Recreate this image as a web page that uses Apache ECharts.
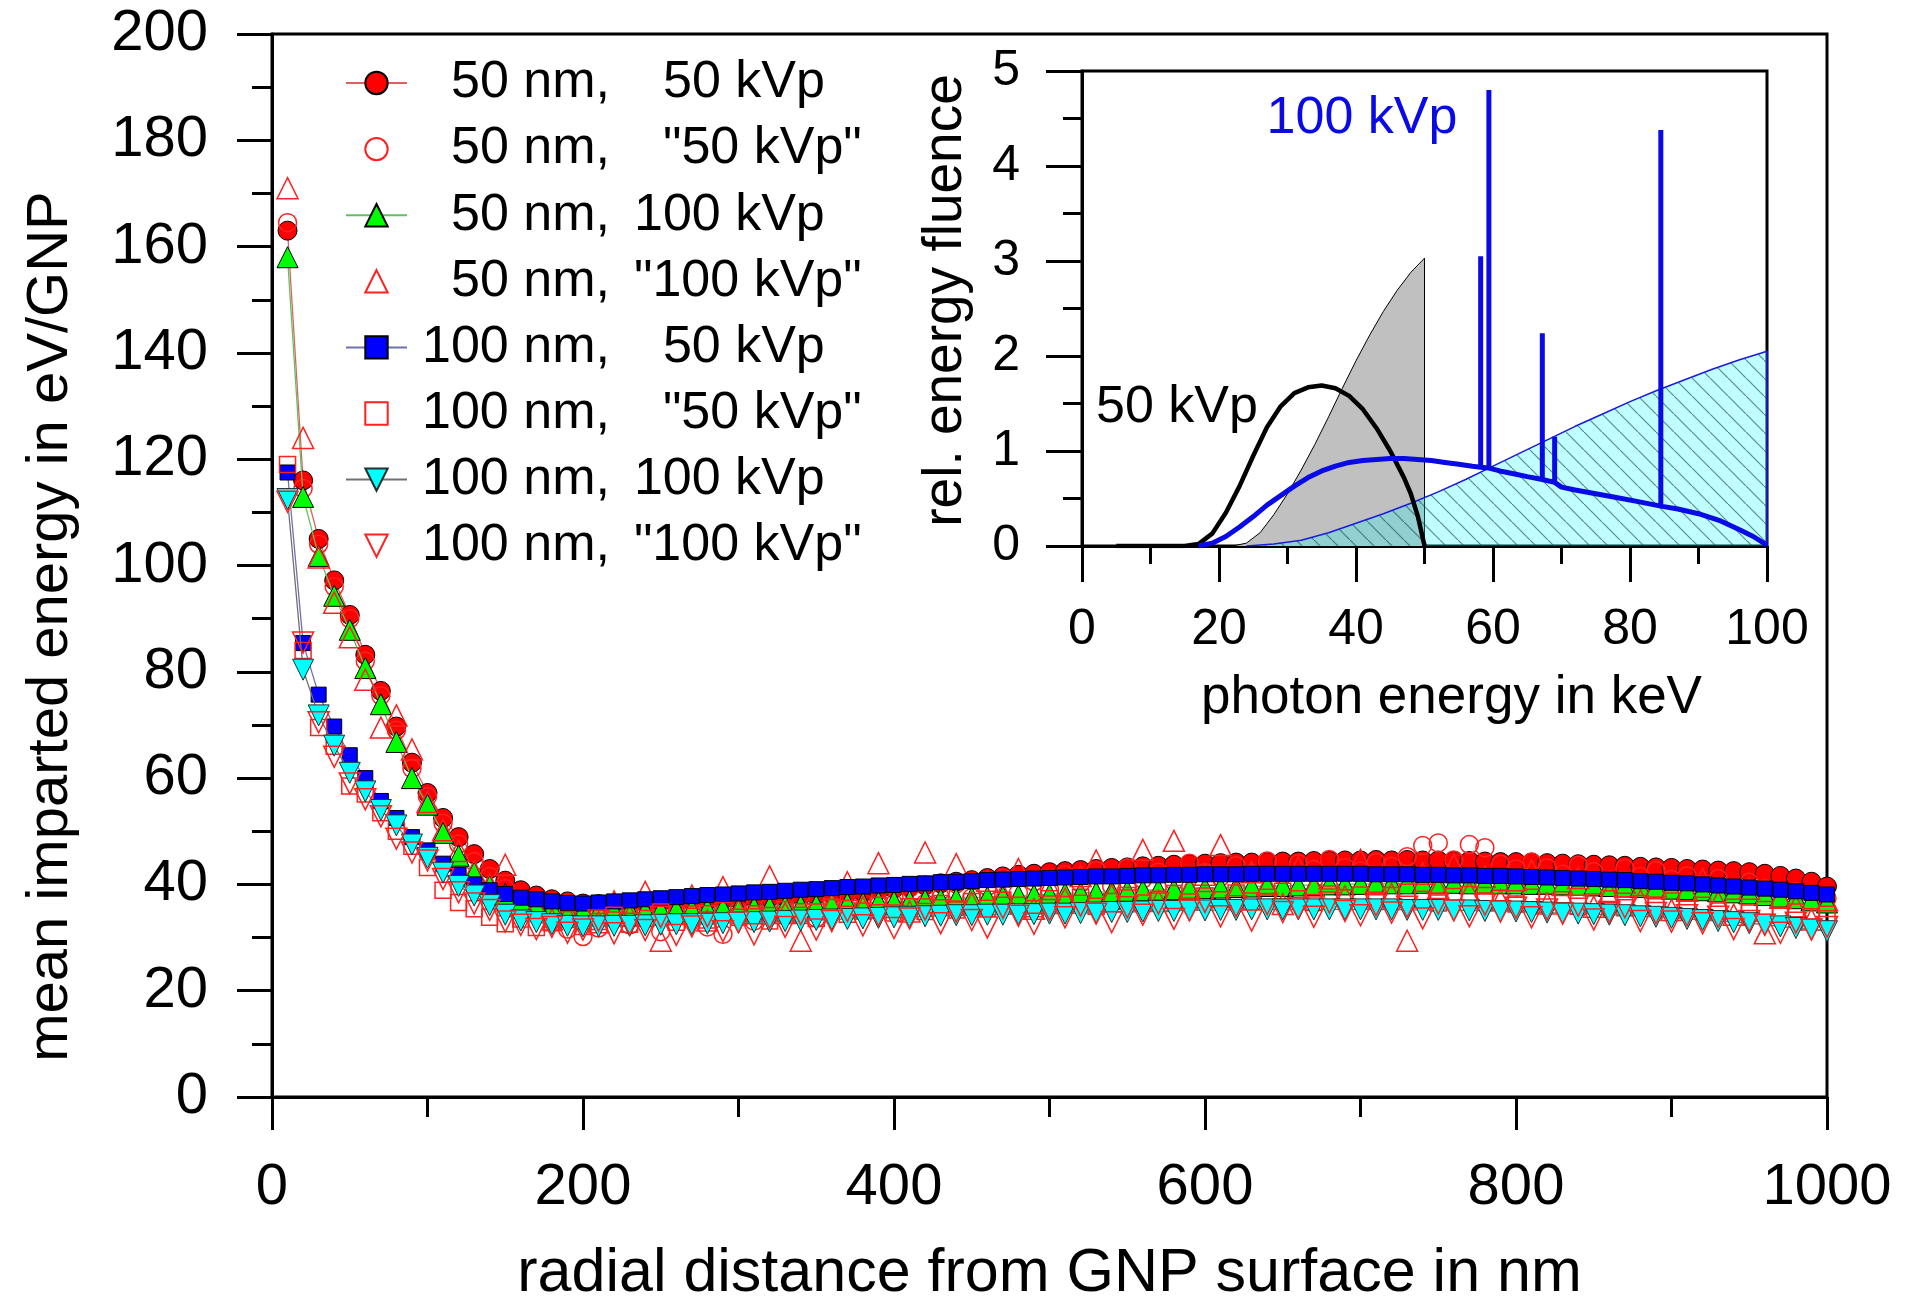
<!DOCTYPE html>
<html style="height: 100%">
<head>
    <meta charset="utf-8">
    <script src="https://cdn.jsdelivr.net/npm/echarts@6/dist/echarts.min.js"></script>
    <title>mean imparted energy</title>
</head>
<body style="height: 100%; margin: 0; background: #fff">
<div id="container" style="width: 1920px; height: 1310px"></div>
<script type="text/javascript">
// radial distance from GNP surface (nm)
let distNm = [10,20,30,40,50,60,70,80,90,100,110,120,130,140,150,160,170,180,190,200,
    210,220,230,240,250,260,270,280,290,300,310,320,330,340,350,360,370,380,390,400,
    410,420,430,440,450,460,470,480,490,500,510,520,530,540,550,560,570,580,590,600,
    610,620,630,640,650,660,670,680,690,700,710,720,730,740,750,760,770,780,790,800,
    810,820,830,840,850,860,870,880,890,900,910,920,930,940,950,960,970,980,990,1000]

// mean imparted energy in eV/GNP, one list per series
let nm50kvp50 = [163.0,116.0,105.0,97.2,90.7,83.2,76.4,69.7,62.9,57.2,
    52.5,48.9,45.7,42.9,40.7,38.9,37.9,37.2,36.8,36.4,
    36.3,36.4,36.4,36.6,36.6,36.7,36.9,36.9,37.1,37.2,
    37.3,37.5,37.6,37.8,38.0,38.1,38.4,38.6,38.9,39.2,
    39.5,39.8,40.2,40.5,40.8,41.2,41.5,41.8,42.0,42.3,
    42.5,42.7,42.9,43.1,43.2,43.4,43.5,43.7,43.8,43.9,
    44.0,44.1,44.1,44.2,44.3,44.3,44.4,44.4,44.5,44.5,
    44.6,44.5,44.6,44.5,44.5,44.4,44.4,44.3,44.2,44.2,
    44.1,44.0,43.9,43.8,43.7,43.6,43.5,43.3,43.2,43.1,
    42.9,42.8,42.6,42.5,42.3,42.0,41.6,41.1,40.5,39.6]
let nm50kvp50q = [164.5,114.5,104.0,96.0,90.0,82.0,75.5,69.0,61.8,56.5,
    51.5,47.6,44.3,41.5,39.2,36.8,35.0,33.2,31.6,30.2,
    31.8,33.5,32.4,34.6,31.1,33.9,35.2,32.0,30.6,34.8,
    33.1,35.9,34.2,36.5,33.7,37.1,35.4,38.2,36.0,37.6,
    39.3,36.4,38.8,40.1,37.5,39.6,41.2,38.4,40.5,39.0,
    41.8,40.2,42.6,39.7,43.1,41.0,42.3,40.6,44.0,42.2,
    41.4,43.5,42.0,44.4,41.7,43.9,42.8,44.7,43.2,42.5,
    44.1,43.4,45.2,47.3,47.8,44.6,47.5,46.9,43.8,42.9,
    44.2,43.1,41.9,43.6,42.4,40.8,43.0,41.5,42.6,40.9,
    41.6,39.8,41.1,38.7,40.4,39.2,37.9,38.6,36.8,37.4]
let nm50kvp100 = [158.0,112.9,101.8,94.3,87.9,80.7,73.9,66.8,60.0,55.0,
    49.7,45.4,42.2,39.7,38.2,37.0,36.2,35.6,35.2,35.0,
    34.9,35.0,35.1,35.1,35.2,35.3,35.3,35.4,35.5,35.6,
    35.7,35.8,35.9,36.0,36.1,36.3,36.4,36.5,36.7,36.8,
    36.9,37.1,37.2,37.3,37.5,37.6,37.7,37.9,38.0,38.1,
    38.3,38.4,38.5,38.7,38.8,38.9,39.0,39.1,39.2,39.3,
    39.4,39.5,39.6,39.7,39.7,39.8,39.9,40.0,40.0,40.1,
    40.1,40.2,40.2,40.3,40.2,40.3,40.2,40.3,40.2,40.2,
    40.1,40.1,40.0,39.9,39.8,39.7,39.6,39.5,39.4,39.2,
    39.1,38.9,38.7,38.5,38.3,38.0,37.7,37.4,37.0,36.6]
let nm50kvp100q = [171.0,124.0,101.5,93.0,86.5,78.5,69.5,71.8,65.4,55.5,
    50.2,46.3,42.5,40.0,43.7,37.1,35.8,33.4,34.2,35.5,
    32.9,36.8,34.1,38.6,29.4,36.0,37.9,33.2,39.5,35.1,
    37.4,41.5,34.6,29.4,38.3,36.2,40.4,35.7,44.0,37.8,
    34.9,46.0,39.1,43.8,36.5,40.7,38.2,42.9,35.4,39.8,
    37.3,41.6,44.5,38.0,40.9,46.5,36.9,48.2,39.4,41.8,
    47.4,38.7,42.3,40.0,36.3,43.2,39.6,41.1,37.8,44.6,
    40.5,38.2,29.4,42.0,39.3,43.7,38.6,41.4,37.1,40.8,
    42.6,36.4,39.9,41.2,35.8,38.5,40.3,37.0,39.6,35.2,
    38.8,41.0,36.7,34.3,39.2,30.8,37.5,35.9,33.4,37.0]
let nm100kvp50 = [117.5,85.4,75.7,69.7,64.3,60.0,55.7,52.5,48.9,46.4,
    43.9,41.8,40.0,38.9,38.2,37.5,37.2,36.8,36.5,36.4,
    36.6,36.8,37.0,37.2,37.4,37.6,37.8,38.0,38.1,38.3,
    38.5,38.6,38.8,39.0,39.1,39.3,39.5,39.6,39.8,39.9,
    40.1,40.2,40.4,40.5,40.6,40.8,40.9,41.0,41.1,41.2,
    41.3,41.4,41.5,41.5,41.6,41.7,41.7,41.8,41.8,41.9,
    41.9,41.9,42.0,42.0,42.0,42.0,42.0,42.0,42.0,42.0,
    41.9,41.9,41.9,41.8,41.8,41.7,41.7,41.6,41.6,41.5,
    41.4,41.3,41.2,41.1,41.0,40.9,40.8,40.6,40.5,40.3,
    40.2,40.0,39.8,39.6,39.4,39.2,39.0,38.7,38.4,38.1]
let nm100kvp50q = [119.0,84.0,69.5,66.0,58.5,57.0,53.5,50.0,47.2,43.2,
    38.9,36.6,35.4,33.8,32.6,33.5,31.9,32.8,33.4,32.1,
    33.0,34.2,32.5,33.6,34.8,32.9,34.0,33.3,35.1,33.8,
    34.5,33.1,35.3,34.2,33.6,35.7,34.4,35.0,36.1,34.6,
    35.8,34.9,36.4,35.2,36.8,35.5,37.0,36.1,35.4,37.3,
    36.2,37.6,35.9,36.8,37.9,36.5,37.2,38.3,36.7,37.8,
    37.1,38.4,36.9,37.6,38.7,37.3,36.6,38.2,37.5,38.0,
    36.8,37.9,38.5,37.2,36.5,37.7,38.1,36.9,37.4,36.3,
    37.6,36.8,37.1,35.9,36.7,37.3,35.6,36.4,35.8,36.9,
    35.4,36.1,35.0,35.7,34.6,35.3,34.2,34.8,33.9,34.4]
let nm100kvp100 = [112.5,80.4,71.8,66.1,61.0,57.5,54.0,51.1,47.5,45.0,
    42.2,39.7,37.9,36.1,34.3,33.2,32.9,32.5,32.2,32.1,
    32.1,32.2,32.2,32.3,32.4,32.5,32.5,32.6,32.7,32.8,
    32.9,33.0,33.1,33.2,33.3,33.4,33.5,33.6,33.7,33.8,
    33.9,34.0,34.1,34.2,34.2,34.3,34.3,34.4,34.4,34.5,
    34.5,34.6,34.7,34.8,34.8,34.9,35.0,35.0,35.1,35.1,
    35.2,35.2,35.3,35.3,35.3,35.3,35.3,35.3,35.3,35.3,
    35.3,35.3,35.2,35.2,35.2,35.1,35.1,35.0,35.0,34.9,
    34.8,34.7,34.6,34.5,34.4,34.3,34.2,34.0,33.9,33.7,
    33.5,33.3,33.1,32.9,32.7,32.4,32.1,31.8,31.5,31.2]
let nm100kvp100q = [112.0,85.5,70.5,64.0,59.0,56.0,52.8,48.6,46.0,44.5,
    41.0,38.5,36.4,35.2,33.0,32.4,31.6,32.0,30.9,31.5,
    33.2,30.8,32.6,31.4,33.9,30.5,32.1,34.0,31.2,32.9,
    30.6,33.7,32.0,34.4,31.5,33.1,35.0,32.3,34.2,31.8,
    33.6,35.3,32.7,34.9,33.3,31.9,35.6,34.1,32.6,35.2,
    33.8,36.0,34.5,32.9,35.7,34.3,36.4,33.5,35.1,36.7,
    34.0,35.9,33.2,36.3,34.8,35.5,33.9,36.6,35.0,34.2,
    36.1,34.7,35.8,33.6,36.4,35.1,34.0,36.2,34.9,35.6,
    33.8,35.3,34.5,36.0,33.4,34.8,35.7,33.1,34.6,33.0,
    34.2,32.7,33.9,31.6,33.1,32.4,30.9,32.8,31.5,32.0]

let seriesNames = ['50 nm, 50 kVp', '50 nm, "50 kVp"', '50 nm, 100 kVp', '50 nm, "100 kVp"',
    '100 nm, 50 kVp', '100 nm, "50 kVp"', '100 nm, 100 kVp', '100 nm, "100 kVp"']

// inset: photon energy (keV) vs rel. energy fluence
let spec50unfilt = [[22,0],[24,0.03],[26,0.14],[28,0.33],[30,0.55],[32,0.8],[34,1.07],[36,1.36],
    [38,1.66],[40,1.95],[42,2.22],[44,2.47],[46,2.69],[48,2.88],[50,3.03],[50,0]]
let spec100unfilt = [[24,0],[28,0.02],[32,0.06],[36,0.14],[40,0.24],[44,0.34],[48,0.45],[52,0.57],
    [56,0.7],[60,0.84],[64,0.98],[68,1.12],[72,1.26],[76,1.39],[80,1.52],[84,1.64],[88,1.75],
    [92,1.86],[96,1.96],[100,2.05],[100,0]]
let spec50 = [[5,0],[10,0],[15,0],[17,0.02],[19,0.13],[21,0.35],[23,0.63],[25,0.95],[27,1.25],
    [29,1.47],[31,1.61],[33,1.67],[35,1.69],[37,1.66],[39,1.58],[41,1.44],[43,1.24],[45,1.0],
    [47,0.72],[48,0.55],[49,0.32],[49.7,0.1],[50,0]]
let spec100 = [[17,0],[19,0.03],[21,0.1],[23,0.2],[25,0.31],[27,0.43],[29,0.53],[31,0.63],[33,0.72],
    [35,0.79],[37,0.84],[39,0.88],[41,0.9],[43,0.91],[45,0.92],[47,0.92],[49,0.91],[51,0.9],
    [53,0.88],[55,0.86],[57,0.84],[58.2,0.83],[58.2,3.05],[58.2,0.83],[59.4,0.82],[59.4,4.8],
    [59.4,0.82],[61,0.79],[63,0.76],[65,0.73],[67.2,0.7],[67.2,2.24],[67.2,0.7],[69,0.67],
    [69,1.15],[69,0.67],[70,0.62],[72,0.59],[75,0.55],[78,0.51],[81,0.47],[84.5,0.42],
    [84.5,4.38],[84.5,0.42],[87,0.39],[90,0.34],[93,0.27],[96,0.17],[98,0.1],[100,0.01]]

const FONT = 'Liberation Sans, Arial, sans-serif'

function pairs(ys) {
    return ys.map((v, i) => [distNm[i], v])
}

// hatch pattern for the 100 kVp area
let hatch = document.createElement('canvas')
hatch.width = 18
hatch.height = 18
let hctx = hatch.getContext('2d')
hctx.fillStyle = 'rgba(0,255,255,0.25)'
hctx.fillRect(0, 0, 18, 18)
hctx.strokeStyle = 'rgba(30,80,80,0.65)'
hctx.lineWidth = 1.2
hctx.beginPath()
hctx.moveTo(-1, -1)
hctx.lineTo(19, 19)
hctx.stroke()

let mainStyles = [
    {symbol: 'circle', size: 19, fill: '#ff0000', border: '#000', line: '#e06060'},
    {symbol: 'circle', size: 18, fill: 'rgba(0,0,0,0)', border: '#ff2020', line: null},
    {symbol: 'triangle', size: 21, fill: '#00ff00', border: '#000', line: '#60c060'},
    {symbol: 'triangle', size: 21, fill: 'rgba(0,0,0,0)', border: '#ff2020', line: null},
    {symbol: 'rect', size: 15, fill: '#0000ff', border: '#000', line: '#7070b0'},
    {symbol: 'rect', size: 16, fill: 'rgba(0,0,0,0)', border: '#ff2020', line: null},
    {symbol: 'triangle', size: 21, fill: '#00ffff', border: '#203030', line: '#707070', rot: 180},
    {symbol: 'triangle', size: 21, fill: 'rgba(0,0,0,0)', border: '#ff2020', line: null, rot: 180}
]
let mainData = [nm50kvp50, nm50kvp50q, nm50kvp100, nm50kvp100q,
    nm100kvp50, nm100kvp50q, nm100kvp100, nm100kvp100q]

let series = []
for (let i in mainData) {
    let s = mainStyles[i]
    series.push({
        name: seriesNames[i],
        type: 'line',
        xAxisIndex: 0, yAxisIndex: 0,
        data: pairs(mainData[i]),
        symbol: s.symbol,
        symbolSize: s.size,
        symbolRotate: s.rot || 0,
        showAllSymbol: true,
        itemStyle: {color: s.fill, borderColor: s.border, borderWidth: s.line ? 1 : 1.5},
        lineStyle: s.line ? {color: s.line, width: 1.3} : {width: 0, opacity: 0},
        z: 2 + Number(i)
    })
}

// inset series
series.push({
    type: 'line', xAxisIndex: 1, yAxisIndex: 1, data: spec50unfilt, symbol: 'none',
    lineStyle: {color: '#000', width: 1}, areaStyle: {color: '#c0c0c0', opacity: 1}, z: 20
})
series.push({
    type: 'line', xAxisIndex: 1, yAxisIndex: 1, data: spec100unfilt, symbol: 'none',
    lineStyle: {color: '#1a1ae0', width: 1.5}, areaStyle: {color: {image: hatch, repeat: 'repeat'}, opacity: 1}, z: 21
})
series.push({
    type: 'line', xAxisIndex: 1, yAxisIndex: 1, data: spec50, symbol: 'none',
    lineStyle: {color: '#000', width: 4.5}, z: 22
})
series.push({
    type: 'line', xAxisIndex: 1, yAxisIndex: 1, data: spec100, symbol: 'none',
    lineStyle: {color: '#0a0ae6', width: 5}, z: 23
})

let axisBlack = {lineStyle: {color: '#000', width: 3}}
let plain = function (v) { return String(v) }

let chart = echarts.init(document.getElementById('container'))
chart.setOption({
    animation: false,
    backgroundColor: '#fff',
    textStyle: {fontFamily: FONT},
    grid: [
        {left: 272, top: 34, width: 1555, height: 1069, show: true, borderColor: '#000', borderWidth: 3},
        {left: 1082, top: 71, width: 685, height: 475, show: true, borderColor: '#000', borderWidth: 3, z: 10}
    ],
    xAxis: [
        {
            type: 'value', gridIndex: 0, min: 0, max: 1000, interval: 200,
            axisLine: axisBlack,
            axisTick: {length: 33, lineStyle: {color: '#000', width: 3}},
            minorTick: {show: true, splitNumber: 2, length: 20, lineStyle: {color: '#000', width: 3}},
            splitLine: {show: false},
            axisLabel: {fontSize: 58, color: '#000', margin: 62, fontFamily: FONT, formatter: plain},
            name: 'radial distance from GNP surface in nm',
            nameLocation: 'middle', nameGap: 147,
            nameTextStyle: {fontSize: 61, color: '#000', fontFamily: FONT}
        },
        {
            type: 'value', gridIndex: 1, min: 0, max: 100, interval: 20,
            axisLine: axisBlack,
            axisTick: {length: 36, lineStyle: {color: '#000', width: 3}},
            minorTick: {show: true, splitNumber: 2, length: 18, lineStyle: {color: '#000', width: 3}},
            splitLine: {show: false},
            axisLabel: {fontSize: 50, color: '#000', margin: 59, fontFamily: FONT},
            name: 'photon energy in keV',
            nameLocation: 'middle', nameGap: 126,
            nameTextStyle: {fontSize: 53, color: '#000', fontFamily: FONT, padding: [0, 0, 0, 54]}
        }
    ],
    yAxis: [
        {
            type: 'value', gridIndex: 0, min: 0, max: 200, interval: 20,
            axisLine: axisBlack,
            axisTick: {length: 35, lineStyle: {color: '#000', width: 3}},
            minorTick: {show: true, splitNumber: 2, length: 20, lineStyle: {color: '#000', width: 3}},
            splitLine: {show: false},
            axisLabel: {fontSize: 58, color: '#000', margin: 64, fontFamily: FONT},
            name: 'mean imparted energy in eV/GNP',
            nameLocation: 'middle', nameGap: 192,
            nameTextStyle: {fontSize: 58, color: '#000', fontFamily: FONT, padding: [0, 122, 0, 0]}
        },
        {
            type: 'value', gridIndex: 1, min: 0, max: 5, interval: 1,
            axisLine: axisBlack,
            axisTick: {length: 36, lineStyle: {color: '#000', width: 3}},
            minorTick: {show: true, splitNumber: 2, length: 19, lineStyle: {color: '#000', width: 3}},
            splitLine: {show: false},
            axisLabel: {fontSize: 50, color: '#000', margin: 62, fontFamily: FONT},
            name: 'rel. energy fluence',
            nameLocation: 'middle', nameGap: 109,
            nameTextStyle: {fontSize: 55, color: '#000', fontFamily: FONT, padding: [0, 0, 0, 16]}
        }
    ],
    legend: {
        data: seriesNames,
        orient: 'vertical',
        left: 345, top: 57,
        padding: 0,
        itemWidth: 61, itemHeight: 28, itemGap: 14.1,
        formatter: function (name) {
            let parts = name.split(', ')
            let nStyle = parts[0].indexOf('100') === 0 ? 'n' : 'n5'
            let kStyle = parts[1].indexOf('100') >= 0 ? 'k' : 'k5'
            return '{' + nStyle + '|' + parts[0] + ',}{' + kStyle + '|' + parts[1] + '}'
        },
        textStyle: {
            fontSize: 52, color: '#000', fontFamily: FONT,
            rich: {
                n: {padding: [0, 0, 0, 10], fontSize: 52, lineHeight: 56, fontFamily: FONT, color: '#000'},
                n5: {padding: [0, 0, 0, 39], fontSize: 52, lineHeight: 56, fontFamily: FONT, color: '#000'},
                k: {padding: [0, 0, 0, 24], fontSize: 52, lineHeight: 56, fontFamily: FONT, color: '#000'},
                k5: {padding: [0, 0, 0, 53], fontSize: 52, lineHeight: 56, fontFamily: FONT, color: '#000'}
            }
        }
    },
    graphic: [
        {type: 'text', x: 1362, y: 119, z: 100,
            style: {text: '100 kVp', fill: '#0a0ae6', fontSize: 52, fontFamily: FONT, align: 'center', verticalAlign: 'middle'}},
        {type: 'text', x: 1177, y: 408, z: 100,
            style: {text: '50 kVp', fill: '#000', fontSize: 52, fontFamily: FONT, align: 'center', verticalAlign: 'middle'}}
    ],
    series: series
}, true)
</script>
</body>
</html>
